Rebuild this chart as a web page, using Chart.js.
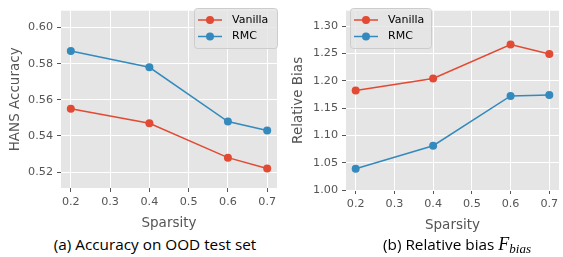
<!DOCTYPE html>
<html>
<head>
<meta charset="utf-8">
<script src="https://cdn.jsdelivr.net/npm/chart.js@4.4.0/dist/chart.umd.min.js"></script>
<style>
	body { margin: 0; width: 563px; height: 257px; background: #fff; position: relative; overflow: hidden; }
	canvas { position: absolute; top: 0; }
	.cap { position: absolute; top: 233px; font-family: "Open Sans", sans-serif; font-size: 15.3px; color: #000; white-space: nowrap; transform: translateX(-50%); line-height: 22px; }
	.cap i { font-family: "Liberation Serif", serif; font-size: 18px; }
	.cap sub { font-family: "Liberation Serif", serif; font-style: italic; font-size: 13px; vertical-align: -3px; }
</style>
</head>
<body>
<canvas id="acc" width="281" height="232" style="left:0"></canvas>
<canvas id="bias" width="283" height="234" style="left:280px"></canvas>
<div class="cap" style="left:155px">(a) Accuracy on OOD test set</div>
<div class="cap" style="left:457px">(b) Relative bias <i>F</i><sub>bias</sub></div>
<script>
const sparsity = [0.2, 0.4, 0.6, 0.7];
const xTicks = [0.2, 0.3, 0.4, 0.5, 0.6, 0.7];

const accVanilla = [0.555, 0.547, 0.528, 0.522];
const accRMC = [0.587, 0.578, 0.548, 0.543];
const accTicks = [0.52, 0.54, 0.56, 0.58, 0.60];

const biasVanilla = [1.182, 1.204, 1.266, 1.249];
const biasRMC = [1.039, 1.081, 1.172, 1.174];
const biasTicks = [1.00, 1.05, 1.10, 1.15, 1.20, 1.25, 1.30];

const seriesNames = ["Vanilla", "RMC"];
const red = "#E24A33", blue = "#348ABD";
const gray = "#555555";
const font = "DejaVu Sans";

// legend box drawn inside the plot, matplotlib style
const boxLegend = {
	id: "boxLegend",
	afterDatasetsDraw(chart, args, opts) {
		const ctx = chart.ctx;
		const {x, y, w, h} = opts;
		ctx.save();
		ctx.beginPath();
		ctx.roundRect(x + 0.5, y + 0.5, w, h, 3);
		ctx.fillStyle = "rgba(229,229,229,0.8)";
		ctx.fill();
		ctx.strokeStyle = "#CCCCCC";
		ctx.lineWidth = 1;
		ctx.stroke();
		chart.data.datasets.forEach((ds, i) => {
			const cy = y + 12 + i * 16.5;
			ctx.strokeStyle = ds.borderColor;
			ctx.lineWidth = 1.5;
			ctx.beginPath();
			ctx.moveTo(x + 4, cy);
			ctx.lineTo(x + 28, cy);
			ctx.stroke();
			ctx.fillStyle = ds.borderColor;
			ctx.beginPath();
			ctx.arc(x + 16, cy, 4, 0, Math.PI * 2);
			ctx.fill();
			ctx.fillStyle = "#000";
			ctx.font = "11px '" + font + "'";
			ctx.textBaseline = "middle";
			ctx.fillText(ds.label, x + 38, cy);
		});
		ctx.restore();
	}
};

function makeChart(id, vanilla, rmc, yTicks, yMin, yMax, yTitle, yWidth, titlePad, legendPos, padRight) {
	const ctx = document.getElementById(id).getContext("2d");
	const datasets = [vanilla, rmc].map((vals, i) => ({
		label: seriesNames[i],
		data: vals.map((v, j) => ({x: sparsity[j], y: v})),
		borderColor: i ? blue : red,
		backgroundColor: i ? blue : red,
		borderWidth: 1.5,
		pointRadius: 4,
		pointBorderWidth: 0,
		showLine: true,
	}));

	return new Chart(ctx, {
		type: "scatter",
		data: {datasets},
		options: {
			responsive: false,
			animation: false,
			layout: {padding: {top: 6, right: padRight, left: 0, bottom: 0}},
			scales: {
				x: {
					type: "linear",
					min: 0.175,
					max: 0.725,
					afterBuildTicks: s => { s.ticks = xTicks.map(v => ({value: v})); },
					afterFit: s => { s.height = 44; },
					ticks: {
						callback: v => v.toFixed(1),
						color: gray,
						font: {family: font, size: 11.2},
						padding: 3,
						maxRotation: 0,
					},
					grid: {color: "#FFFFFF", lineWidth: 1, tickColor: gray, tickLength: 4},
					border: {display: false},
					title: {display: true, text: "Sparsity", color: gray, font: {family: font, size: 13.5}, padding: {top: 6, bottom: 0}},
				},
				y: {
					min: yMin,
					max: yMax,
					afterBuildTicks: s => { s.ticks = yTicks.map(v => ({value: v})); },
					afterFit: s => { s.width = yWidth; },
					ticks: {
						callback: v => v.toFixed(2),
						color: gray,
						font: {family: font, size: 11.2},
						padding: 4,
					},
					grid: {color: "#FFFFFF", lineWidth: 1, tickColor: gray, tickLength: 4},
					border: {display: false},
					title: {display: true, text: yTitle, color: gray, font: {family: font, size: 13.5}, padding: {top: titlePad, bottom: 0}},
				}
			},
			plugins: {
				legend: {display: false},
				tooltip: {enabled: false},
				boxLegend: legendPos,
			}
		},
		plugins: [
			{
				id: "bg",
				beforeDraw(chart) {
					const a = chart.chartArea;
					chart.ctx.save();
					chart.ctx.fillStyle = "#E5E5E5";
					chart.ctx.fillRect(a.left, a.top, a.right - a.left, a.bottom - a.top);
					chart.ctx.restore();
				}
			},
			boxLegend
		]
	});
}

makeChart("acc", accVanilla, accRMC, accTicks, 0.5112, 0.6093, "HANS Accuracy", 61, 7, {x: 194, y: 8, w: 83, h: 40}, 3);
makeChart("bias", biasVanilla, biasRMC, biasTicks, 1.0, 1.328, "Relative Bias", 66, 10, {x: 70, y: 8, w: 81, h: 40}, 1);
</script>
</body>
</html>
